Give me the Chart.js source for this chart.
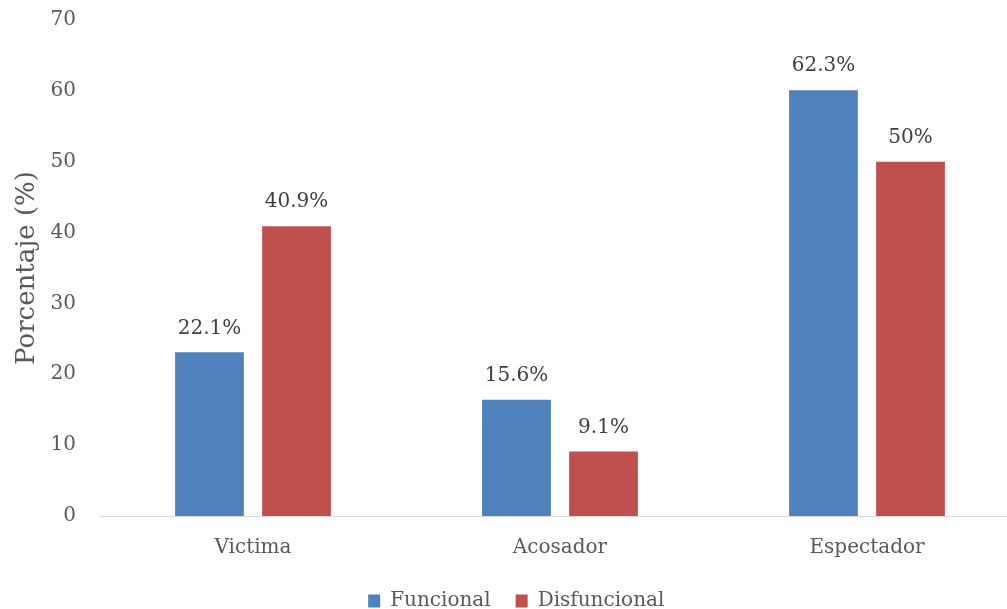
<!DOCTYPE html>
<html lang="es">
<head>
  <meta charset="UTF-8">
  <title>Porcentaje por rol</title>
  <script src="https://cdn.jsdelivr.net/npm/chart.js"></script>
  <style>
    html, body {
      margin: 0;
      padding: 0;
      background: #ffffff;
      overflow: hidden;
    }
    #wrap {
      width: 1030px;
      height: 621px;
    }
  </style>
</head>
<body>
  <div id="wrap"><canvas id="chart" width="1030" height="621"></canvas></div>

  <script>
    const categorias = ['Victima', 'Acosador', 'Espectador'];
    const funcional = [23.1, 16.4, 60.1];
    const disfuncional = [40.9, 9.1, 50];
    const etiquetasFuncional = ['22.1%', '15.6%', '62.3%'];
    const etiquetasDisfuncional = ['40.9%', '9.1%', '50%'];
    const yTicks = [0, 10, 20, 30, 40, 50, 60, 70];

    const serif = "'DejaVu Serif', 'Liberation Serif', serif";

    // etiquetas encima de cada barra
    const etiquetasPlugin = {
      id: 'etiquetas',
      afterDatasetsDraw(chart) {
        const ctx = chart.ctx;
        ctx.save();
        ctx.font = '20px ' + serif;
        ctx.fillStyle = '#404040';
        ctx.textAlign = 'center';
        ctx.textBaseline = 'middle';
        chart.data.datasets.forEach((ds, i) => {
          chart.getDatasetMeta(i).data.forEach((bar, j) => {
            ctx.fillText(ds.etiquetas[j], bar.x, bar.y - 24);
          });
        });
        ctx.restore();
      }
    };

    new Chart(document.getElementById('chart'), {
      type: 'bar',
      data: {
        labels: categorias,
        datasets: [{
          label: 'Funcional',
          data: funcional,
          etiquetas: etiquetasFuncional,
          backgroundColor: '#4F81BD',
          categoryPercentage: 0.567,
          barPercentage: 0.79
        }, {
          label: 'Disfuncional',
          data: disfuncional,
          etiquetas: etiquetasDisfuncional,
          backgroundColor: '#C0504D',
          categoryPercentage: 0.567,
          barPercentage: 0.79
        }]
      },
      options: {
        responsive: false,
        animation: false,
        layout: {
          padding: { top: 20, left: 12, right: 9.5, bottom: 0 }
        },
        scales: {
          x: {
            grid: { display: false, drawTicks: false },
            border: { display: true, color: '#d9d9d9', width: 1 },
            ticks: {
              color: '#595959',
              font: { family: serif, size: 20 },
              padding: 20
            },
            afterFit: s => { s.height = 50; }
          },
          y: {
            min: 0,
            max: 70,
            afterBuildTicks: s => { s.ticks = yTicks.map(v => ({ value: v })); },
            grid: { display: false, drawTicks: false },
            border: { display: false },
            ticks: {
              color: '#595959',
              font: { family: serif, size: 20 },
              padding: 23.5
            },
            title: {
              display: true,
              text: 'Porcentaje (%)',
              color: '#595959',
              font: { family: serif, size: 26 },
              padding: 0
            },
            afterFit: s => {
              s.width = 87.5;
              s.paddingTop = 0;
              s.paddingBottom = 0;
            }
          }
        },
        plugins: {
          legend: {
            position: 'bottom',
            labels: {
              color: '#595959',
              font: { family: serif, size: 20 },
              boxWidth: 12,
              boxHeight: 13,
              padding: 25
            }
          },
          tooltip: { enabled: false }
        }
      },
      plugins: [etiquetasPlugin]
    });
  </script>
</body>
</html>
